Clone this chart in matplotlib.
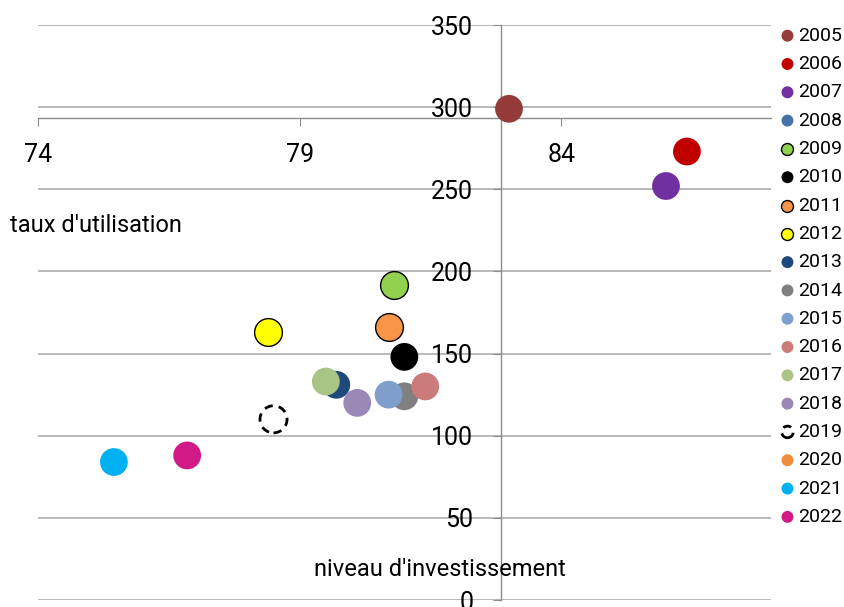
import numpy as np
import matplotlib
matplotlib.use("Agg")
from matplotlib import pyplot as plt

plt.rcParams['font.family'] = ['Roboto', 'DejaVu Sans']

years = [str(y) for y in range(2005, 2023)]
# niveau d'investissement (x) and taux d'utilisation (y); 2008 and 2020 not visible
invest = [83.0, 86.4, 86.0, np.nan, 80.8, 81.0, 80.7, 78.4, 79.7, 81.0,
          80.7, 81.4, 79.5, 80.1, 78.5, np.nan, 75.45, 76.85]
usage = [299, 273, 252, np.nan, 192, 148, 166, 163, 131, 124,
         125, 130, 133, 120, 110, np.nan, 84, 88]
colors = ["#953B3B", "#C00000", "#7030A0", "#4672A8", "#92D050", "#000000",
          "#F79646", "#FFFF00", "#1F497D", "#808080", "#7F9ECB", "#CC7B7B",
          "#A9C586", "#9B88B6", "#FFFFFF", "#F08A3C", "#00B0F0", "#D01A86"]
edged = ["2009", "2011", "2012"]

fig = plt.figure(figsize=(8.45, 6.07), dpi=100)
ax = fig.add_axes([0.045, 0.0115, 0.867, 0.9473])

for i, yr in enumerate(years):
    if yr == "2019":
        ax.scatter([invest[i]], [usage[i]], s=380, facecolors="white", edgecolors="black",
                   linewidths=2, linestyles=(0, (3, 2.2)), label=yr, zorder=3)
    elif yr in edged:
        ax.scatter([invest[i]], [usage[i]], s=400, color=colors[i], edgecolors="black",
                   linewidths=1, label=yr, zorder=3)
    else:
        ax.scatter([invest[i]], [usage[i]], s=400, color=colors[i], edgecolors="none",
                   label=yr, zorder=3)

ax.set_xlim(74, 88)
ax.set_ylim(0, 350)
ax.set_xticks([74, 79, 84])
ax.set_yticks(np.arange(0, 351, 50))
ax.yaxis.grid(True, color="#A6A6A6", linewidth=1.1)
ax.set_axisbelow(True)

ax.spines['left'].set_position(('data', 82.85))
ax.spines['bottom'].set_position(('data', 293.5))
ax.spines['top'].set_visible(False)
ax.spines['right'].set_visible(False)
for s in ['left', 'bottom']:
    ax.spines[s].set_color("#8C8C8C")
    ax.spines[s].set_linewidth(1)
ax.tick_params(axis='x', direction='out', length=6, pad=12, labelsize=18, color="#8C8C8C")
ax.tick_params(axis='y', direction='out', length=6, pad=14, labelsize=18, color="#8C8C8C")

fig.text(10 / 845, 1 - 225 / 607, "taux d'utilisation", fontsize=17, ha="left", va="center")
fig.text(440 / 845, 1 - 570 / 607, "niveau d'investissement", fontsize=17, ha="center", va="center")

fig.legend(loc="upper left", bbox_to_anchor=(769 / 845, 1 - 19 / 607), frameon=False,
           fontsize=14, markerscale=0.43, handletextpad=0.0, labelspacing=0.53,
           borderaxespad=0, handlelength=1.1)

plt.savefig("out.png", dpi=100)
